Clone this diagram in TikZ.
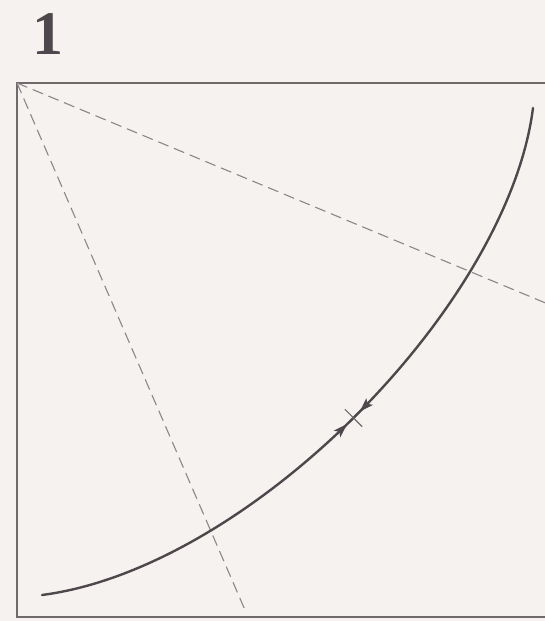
\documentclass[tikz,border=0pt]{standalone}
\usepackage{fontspec}
\setmainfont{Liberation Serif}
\usetikzlibrary{arrows.meta,decorations.markings}
\definecolor{paper}{RGB}{246,242,240}
\definecolor{edge}{RGB}{112,106,108}
\definecolor{crease}{RGB}{140,134,136}
\definecolor{ink}{RGB}{78,72,76}

\begin{document}
\begin{tikzpicture}[x=1pt, y=-1pt,
  sheet/.style={draw=edge, line width=1.6pt},
  valley/.style={draw=crease, line width=1.1pt, dash pattern=on 11pt off 6pt},
  foldcurve/.style={draw=ink, line width=2.4pt, line cap=round},
  steplabel/.style={text=ink, font=\fontsize{62}{62}\selectfont\bfseries, inner sep=0pt},
  pinch/.style={postaction={decorate, decoration={markings,
      mark=at position 0.488 with {\arrow{Stealth[length=14pt,width=9pt,inset=3pt]}},
      mark=at position 0.5 with {\draw[edge, line width=1.1pt] (0,-12) -- (0,12);},
      mark=at position 0.512 with {\arrowreversed{Stealth[length=14pt,width=9pt,inset=3pt]}}}}}]
\fill[paper] (0,0) rectangle (545,621);
\useasboundingbox (0,0) rectangle (545,621);
\clip (0,0) rectangle (545,621);
% step number
\node[steplabel] (step) at (48,34) {1};
% the square sheet (right side runs off the page)
\coordinate (corner) at (17,83);
\draw[sheet] (560,83) -- (corner) -- (17,617) -- (560,617);
% crease lines from the top left corner
\coordinate (rightend) at (560,309);
\coordinate (bottomend) at (245,610);
\draw[valley] (corner) -- (rightend);
\draw[valley] (corner) -- (bottomend);
% fold curve with pinch mark
\coordinate (start) at (42,595);
\coordinate (finish) at (533,108);
\draw[foldcurve, pinch] (start) .. controls (250,568) and (508,305) .. (finish);
\end{tikzpicture}
\end{document}
